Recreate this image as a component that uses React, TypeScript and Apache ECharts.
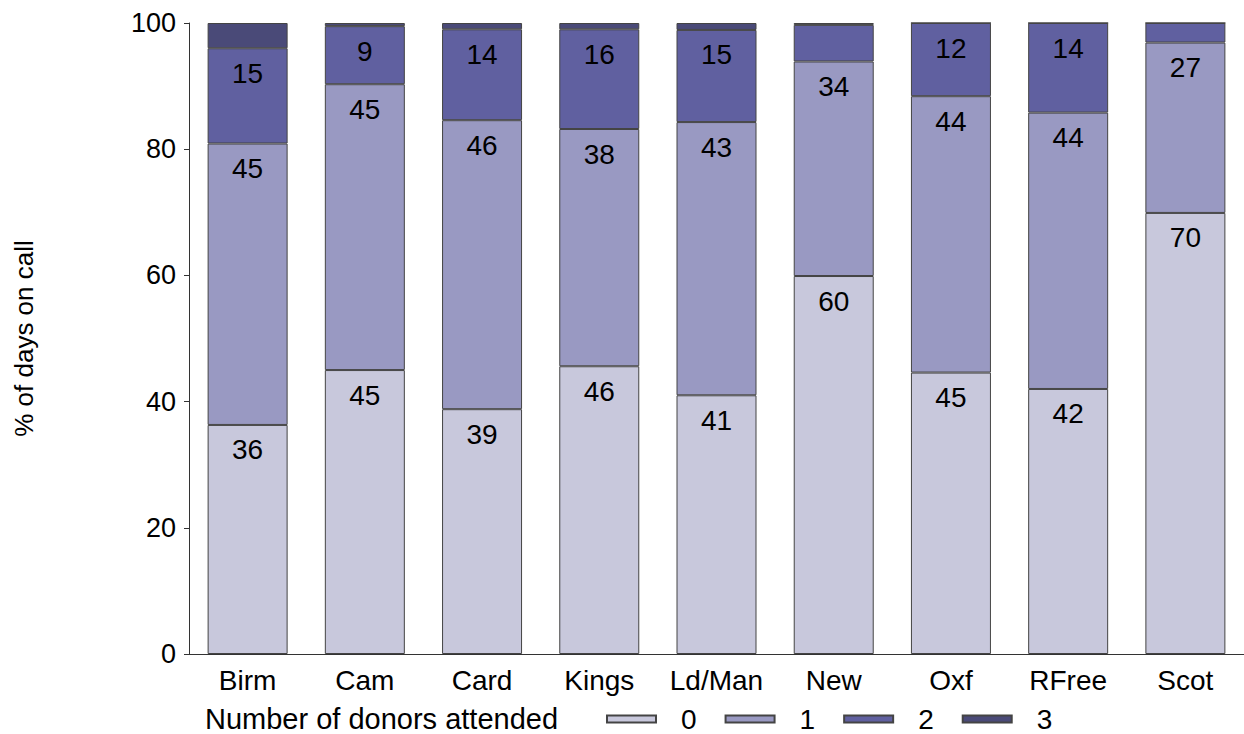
import React, { useEffect, useRef } from "react";
import * as echarts from "echarts";

const categories = ["Birm", "Cam", "Card", "Kings", "Ld/Man", "New", "Oxf", "RFree", "Scot"];
const donors0 = [36.3, 45.0, 38.8, 45.6, 41.0, 59.9, 44.6, 42.0, 69.9];
const donors1 = [44.6, 45.3, 45.8, 37.6, 43.3, 34.0, 43.8, 43.8, 27.0];
const donors2 = [15.1, 9.2, 14.4, 15.8, 14.6, 5.8, 11.6, 14.2, 3.1];
const donors3 = [4.0, 0.5, 1.0, 1.0, 1.1, 0.3, 0, 0, 0];
const seriesNames = ["0", "1", "2", "3"];
const seriesColors = ["#C8C8DC", "#9999C2", "#6060A0", "#4A4A78"];
const yTicks = { min: 0, max: 100, interval: 20 };

const FONT = "Liberation Sans, Arial, sans-serif";

export default function App() {
  const ref = useRef<HTMLDivElement>(null);
  useEffect(() => {
    document.body.style.margin = "0";
    document.body.style.overflow = "hidden";
    if (!ref.current) return;
    const chart = echarts.init(ref.current, undefined, { renderer: "svg" });
    const allData = [donors0, donors1, donors2, donors3];
    chart.setOption({
      animation: false,
      textStyle: { fontFamily: FONT },
      title: {
        text: "Number of donors attended",
        left: 205,
        top: 705,
        padding: 0,
        textStyle: { fontFamily: FONT, fontSize: 29, lineHeight: 28, fontWeight: "normal", color: "#000" },
      },
      legend: {
        data: seriesNames,
        left: 606,
        top: 705,
        padding: 0,
        itemWidth: 49,
        itemHeight: 7,
        itemGap: 28,
        icon: "rect",
        textStyle: { fontFamily: FONT, fontSize: 28, lineHeight: 28, color: "#000", padding: [0, 0, 0, 20] },
      },
      grid: { left: 189, right: -4, top: 23, bottom: 80, containLabel: false },
      xAxis: {
        type: "category",
        data: categories,
        axisLine: { show: true, lineStyle: { color: "#333", width: 1 } },
        axisTick: { show: false },
        axisLabel: { interval: 0, hideOverlap: false, fontFamily: FONT, fontSize: 28, color: "#000", margin: 12 },
      },
      yAxis: {
        type: "value",
        min: yTicks.min,
        max: yTicks.max,
        interval: yTicks.interval,
        name: "% of days on call",
        nameLocation: "middle",
        nameGap: 152,
        nameTextStyle: { fontFamily: FONT, fontSize: 26, color: "#000" },
        axisLine: { show: true, lineStyle: { color: "#333", width: 1 } },
        axisTick: { show: true, length: 5, lineStyle: { color: "#333" } },
        axisLabel: { fontFamily: FONT, fontSize: 27, color: "#000", margin: 13 },
        splitLine: { show: false },
      },
      series: allData.map((d, i) => ({
        name: seriesNames[i],
        type: "bar",
        stack: "total",
        barWidth: 80,
        data: d,
        itemStyle: { color: seriesColors[i], borderColor: "#444", borderWidth: 1 },
        label: {
          show: true,
          position: "insideTop",
          distance: 11,
          fontFamily: FONT,
          fontSize: 28,
          color: "#000",
          formatter: (p: any) => (p.value >= 8 ? String(Math.round(p.value)) : ""),
        },
      })),
    });
    return () => chart.dispose();
  }, []);
  return <div ref={ref} style={{ width: 1244, height: 734 }} />;
}
